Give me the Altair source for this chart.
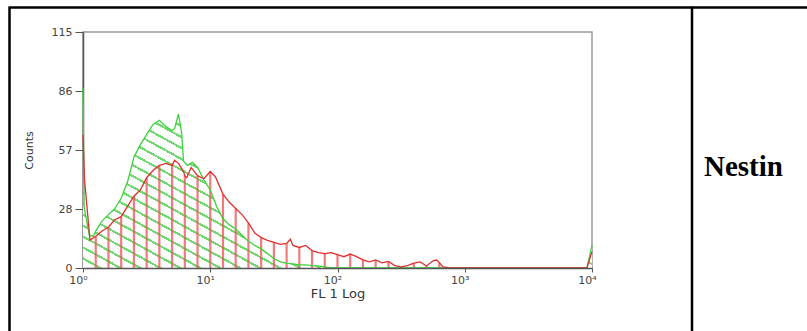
import altair as alt
import pandas as pd

# ---- data ----
green_log = [0.000, 0.008, 0.05, 0.08, 0.10, 0.15, 0.20, 0.25, 0.30, 0.35, 0.40, 0.45, 0.50, 0.55,
             0.60, 0.65, 0.70, 0.72, 0.75, 0.775, 0.79, 0.82, 0.86, 0.90, 0.95, 1.00, 1.05, 1.10,
             1.15, 1.20, 1.25, 1.30, 1.35, 1.40, 1.45, 1.50, 1.55, 1.60, 1.65, 1.70, 1.75, 1.80,
             1.85, 1.90, 1.95, 3.96, 4.00]
green_counts = [88, 30, 16, 15.5, 18, 23, 26, 29, 34, 42, 54, 60, 65, 70,
                72, 69, 67, 68, 75, 66, 52, 50, 51.5, 49, 43, 38, 30, 24,
                21, 19, 16, 13, 11, 9.3, 7, 4.6, 3, 2.3, 2, 1.5, 1.5, 1.2,
                1, 0.5, 0, 0, 11]

red_log = [0.000, 0.012, 0.055, 0.10, 0.15, 0.20, 0.25, 0.30, 0.35, 0.40, 0.45, 0.50, 0.55, 0.60,
           0.65, 0.70, 0.72, 0.75, 0.76, 0.79, 0.80, 0.815, 0.85, 0.90, 0.95, 1.00, 1.04, 1.10,
           1.15, 1.20, 1.25, 1.30, 1.35, 1.40, 1.45, 1.50, 1.55, 1.60, 1.63, 1.65, 1.70, 1.75,
           1.80, 1.85, 1.90, 1.95, 2.00, 2.05, 2.10, 2.15, 2.20, 2.25, 2.30, 2.35, 2.40, 2.45,
           2.50, 2.55, 2.60, 2.65, 2.70, 2.75, 2.78, 2.80, 2.83, 2.88, 3.96, 4.00]
red_counts = [65, 43, 13.6, 15.5, 18, 20, 23.5, 25, 30, 35, 38, 44, 47.5, 50,
              51, 50, 52.5, 51, 50, 47, 45, 44, 49, 45, 43.5, 47, 44.5, 36,
              32, 29, 26, 22, 17, 14.8, 13.5, 12.5, 11.5, 12, 14, 11, 10, 11,
              8.5, 7.5, 7, 7.5, 6.5, 5.5, 6.8, 5.5, 4, 3, 3.9, 2.5, 3.2, 1.2,
              0.6, 1.2, 2.4, 3, 1, 3.5, 3.9, 2.6, 0.5, 0, 0, 8]

x_tick_values = [0, 1, 2, 3, 4]
x_tick_labels = ["10⁰", "10¹", "10²", "10³", "10⁴"]
y_tick_values = [0, 28.75, 57.5, 86.25, 115]
y_tick_labels = ["0", "28", "57", "86", "115"]
x_title = "FL 1 Log"
y_title = "Counts"
panel_label = "Nestin"

green_df = pd.DataFrame({"d": green_log, "c": green_counts})
red_df = pd.DataFrame({"d": red_log, "c": red_counts})
label_df = pd.DataFrame({"label": [panel_label]})

# ---- layout ----
W, H = 509, 236
PAD_L, PAD_T = 83, 32

x_enc = alt.X("d:Q", scale=alt.Scale(domain=[0, 4], nice=False, zero=False),
              axis=alt.Axis(values=x_tick_values,
                            labelExpr="[" + ",".join("'%s'" % s for s in x_tick_labels) + "][datum.value]",
                            title=x_title, titleFontSize=13, titleFontWeight="normal",
                            titleFont="DejaVu Sans", titleColor="#333", titlePadding=2,
                            labelFont="DejaVu Sans", labelFontSize=11, labelColor="#444",
                            labelOffset=-5, labelPadding=2, tickSize=4, tickColor="#555",
                            domainColor="#555", domainWidth=1.5, grid=False, labelFlush=False,
                            zindex=1))
y_enc = alt.Y("c:Q", scale=alt.Scale(domain=[0, 115], nice=False),
              axis=alt.Axis(values=y_tick_values,
                            labelExpr="[" + ",".join("'%s'" % s for s in y_tick_labels) + "][indexof(["
                                      + ",".join(str(v) for v in y_tick_values) + "], datum.value)]",
                            title=y_title, titleFontSize=11, titleFontWeight="normal",
                            titleFont="DejaVu Sans", titleColor="#333",
                            titleX=-49, titleY=H / 2,
                            labelFont="DejaVu Sans", labelFontSize=11, labelColor="#444",
                            labelPadding=3, tickSize=8, tickColor="#555",
                            domainColor="#555", domainWidth=1.5, grid=False, labelFlush=False))

# diagonal hatch for the green histogram, as a striped linear gradient
N = 42
stops = []
for i in range(N):
    a = i / N
    b = (i + 0.22) / N
    c = (i + 1) / N
    stops += [alt.GradientStop(offset=round(a, 6), color="#72d872"),
              alt.GradientStop(offset=round(b, 6), color="#72d872"),
              alt.GradientStop(offset=round(b, 6), color="#ffffff"),
              alt.GradientStop(offset=round(c, 6), color="#ffffff")]
hatch = alt.Gradient(gradient="linear", stops=stops, x1=1, y1=0, x2=-0.162, y2=0.75)

green_area = alt.Chart(green_df).mark_area(fill=hatch, interpolate="linear").encode(x=x_enc, y=y_enc)
red_rules = alt.Chart(red_df).transform_filter(
    "abs(datum.d*10 - round(datum.d*10)) < 0.001 && datum.d >= 0.1 && datum.d <= 2.85"
).mark_rule(color="#ee5a5a", strokeWidth=2.2, opacity=0.8).encode(
    x="d:Q", y="c:Q", y2=alt.datum(0))
green_line = alt.Chart(green_df).mark_line(color="#3ad43a", strokeWidth=1.3).encode(x="d:Q", y="c:Q")
red_line = alt.Chart(red_df).mark_line(color="#e03030", strokeWidth=1.3).encode(x="d:Q", y="c:Q")

# table cell borders and the label
border_top = alt.Chart(label_df).mark_rule(color="#000", strokeWidth=2.5).encode(
    x=alt.value(9.5 - PAD_L), x2=alt.value(807 - PAD_L + 5), y=alt.value(7.5 - PAD_T))
border_left = alt.Chart(label_df).mark_rule(color="#000", strokeWidth=2.5).encode(
    x=alt.value(9.5 - PAD_L), y=alt.value(6.5 - PAD_T), y2=alt.value(331 - PAD_T + 5))
border_mid = alt.Chart(label_df).mark_rule(color="#000", strokeWidth=2.5).encode(
    x=alt.value(692 - PAD_L), y=alt.value(6.5 - PAD_T), y2=alt.value(331 - PAD_T + 5))
label = alt.Chart(label_df).mark_text(
    font="Liberation Serif", fontWeight="bold", fontSize=29, align="left",
    baseline="alphabetic", color="#000").encode(
    text="label:N", x=alt.value(704 - PAD_L), y=alt.value(176 - PAD_T))

chart = alt.layer(green_area, red_rules, green_line, red_line,
                  border_top, border_left, border_mid, label).properties(
    width=W, height=H,
    autosize=alt.AutoSizeParams(type="none"),
    padding={"left": PAD_L, "top": PAD_T, "right": 807 - PAD_L - W, "bottom": 331 - PAD_T - H},
    background="#ffffff",
).configure_view(stroke="#999", strokeWidth=1.5)

chart.save("out.html", embed_options={"renderer": "svg", "actions": False})
